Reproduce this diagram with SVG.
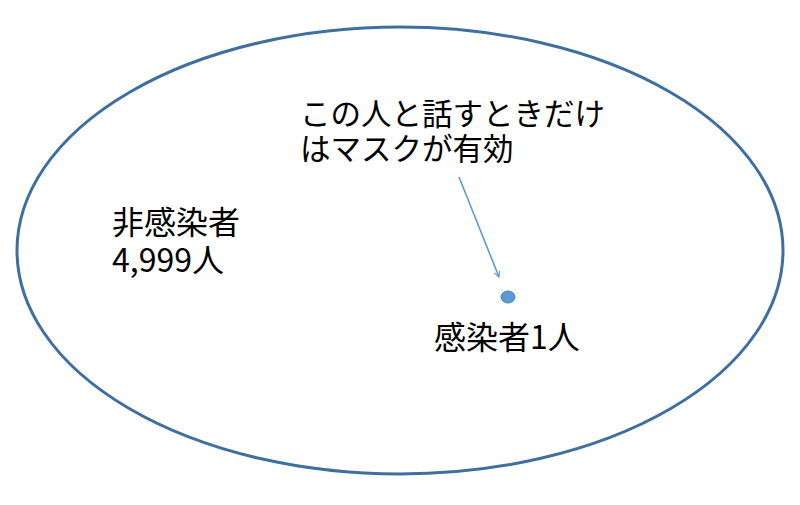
<svg xmlns="http://www.w3.org/2000/svg" width="800" height="505" viewBox="0 0 800 505">
<style>
.t{font-family:"Noto Sans CJK JP","Noto Sans",sans-serif;fill:#000}
</style>
<defs>
<marker id="ah" viewBox="0 0 10 10" refX="9" refY="5" markerWidth="7" markerHeight="7" orient="auto" markerUnits="userSpaceOnUse">
<path d="M1,1 L9,5 L1,9" fill="none" stroke="#5b9bd5" stroke-width="1.6"/>
</marker>
</defs>
<rect width="800" height="505" fill="#fff"/>
<g id="population">
<ellipse cx="400" cy="250.5" rx="383" ry="223.5" fill="none" stroke="#3f6f9f" stroke-width="3"/>
</g>
<g id="uninfected">
<text class="t" x="112" y="234" font-size="32">非感染者</text>
<text class="t" x="112" y="272" font-size="32">4,999人</text>
</g>
<g id="infected">
<ellipse cx="508" cy="297" rx="7" ry="6" fill="#5b9bd5" stroke="#4a84bd" stroke-width="1"/>
<text class="t" x="434" y="349" font-size="32">感染者1人</text>
</g>
<g id="note">
<text class="t" x="300" y="125" font-size="30.5">この人と話すときだけ</text>
<text class="t" x="300" y="160" font-size="30.5">はマスクが有効</text>
</g>
<g id="connectors">
<line x1="459" y1="177" x2="499" y2="277" stroke="#5b9bd5" stroke-width="1.6" marker-end="url(#ah)"/>
</g>
</svg>
